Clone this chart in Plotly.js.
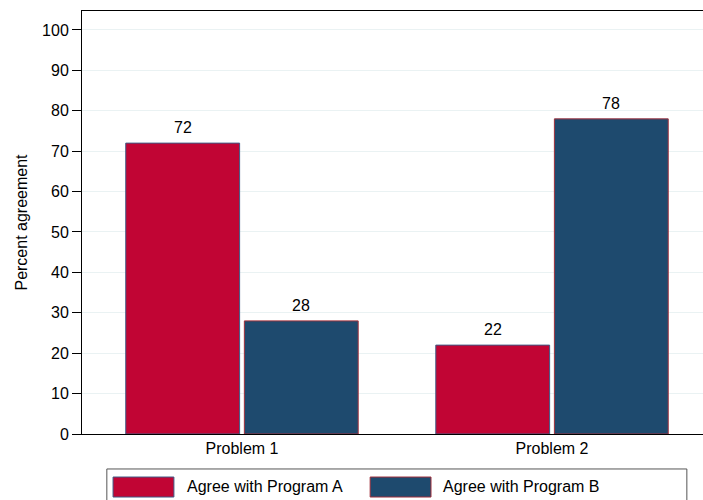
<!DOCTYPE html>
<html>
<head>
<meta charset="utf-8">
<script src="https://cdn.plot.ly/plotly-3.0.1.min.js"></script>
<style>html,body{margin:0;padding:0;background:#fff;}#chart{width:703px;height:500px;}</style>
</head>
<body>
<div id="chart"></div>
<script>
const categories = ["Problem 1", "Problem 2"];
const seriesNames = ["Agree with Program A", "Agree with Program B"];
const programA = [72, 22];
const programB = [28, 78];
const yTicks = [0, 10, 20, 30, 40, 50, 60, 70, 80, 90, 100];

const red = "#C10534";
const navy = "#1E4A6E";
const font = "Liberation Sans, Arial, sans-serif";
const bargap = 0.235;

const traces = [
  {type: "bar", name: seriesNames[0], x: categories, y: programA,
   marker: {color: red, line: {color: "#3E5A85", width: 1}}, showlegend: false},
  {type: "bar", name: seriesNames[1], x: categories, y: programB,
   marker: {color: navy, line: {color: "#A0303C", width: 1}}, showlegend: false}
];

// value labels above each bar, placed from the data arrays
const slot = (1 - bargap) / 2;
const valueLabels = [];
[programA, programB].forEach((series, s) => {
  series.forEach((v, i) => {
    valueLabels.push({xref: "x", yref: "y", x: i + (s === 0 ? -slot / 2 : slot / 2), y: v,
      text: String(v), showarrow: false, yanchor: "bottom", yshift: 5,
      font: {family: font, size: 16, color: "#000"}});
  });
});

// legend drawn with paper-positioned shapes/annotations to get wide Stata-style keys
const shapes = [
  {type: "rect", xref: "paper", yref: "paper", x0: 0.040, x1: 0.974, y0: -0.17, y1: -0.0827,
   line: {color: "#555", width: 1}, fillcolor: "rgba(0,0,0,0)"},
  {type: "rect", xref: "paper", yref: "paper", x0: 0.05, x1: 0.148, y0: -0.149, y1: -0.1017,
   line: {color: "#3E5A85", width: 1}, fillcolor: red},
  {type: "rect", xref: "paper", yref: "paper", x0: 0.464, x1: 0.562, y0: -0.149, y1: -0.1017,
   line: {color: "#A0303C", width: 1}, fillcolor: navy}
];
const legendText = [
  {xref: "paper", yref: "paper", x: 0.166, y: -0.125, xanchor: "left", yanchor: "middle",
   text: seriesNames[0], showarrow: false, font: {family: font, size: 16, color: "#000"}},
  {xref: "paper", yref: "paper", x: 0.578, y: -0.125, xanchor: "left", yanchor: "middle",
   text: seriesNames[1], showarrow: false, font: {family: font, size: 16, color: "#000"}}
];

const layout = {
  width: 703, height: 500,
  margin: {l: 82, r: 0, t: 11, b: 66},
  paper_bgcolor: "#fff", plot_bgcolor: "#fff",
  font: {family: font, size: 16, color: "#000"},
  barmode: "group", bargap: bargap, bargroupgap: 0.04,
  showlegend: false,
  xaxis: {range: [-0.516, 1.487], showline: true, linecolor: "#000", linewidth: 1, mirror: true,
          ticks: "", showgrid: false, zeroline: false, fixedrange: true,
          tickfont: {family: font, size: 16, color: "#000"}},
  yaxis: {range: [0, 104.7], tickvals: yTicks, ticktext: yTicks.map(String),
          showline: true, linecolor: "#000", linewidth: 1, ticks: "outside", ticklen: 9,
          tickcolor: "#000", showgrid: true, gridcolor: "#EAF2F3", gridwidth: 1, zeroline: false,
          tickfont: {family: font, size: 16, color: "#000"},
          title: {text: "Percent agreement", font: {family: font, size: 16, color: "#000"}, standoff: 10}},
  shapes: shapes,
  annotations: valueLabels.concat(legendText)
};

Plotly.newPlot("chart", traces, layout, {displayModeBar: false, staticPlot: true});
</script>
</body>
</html>
